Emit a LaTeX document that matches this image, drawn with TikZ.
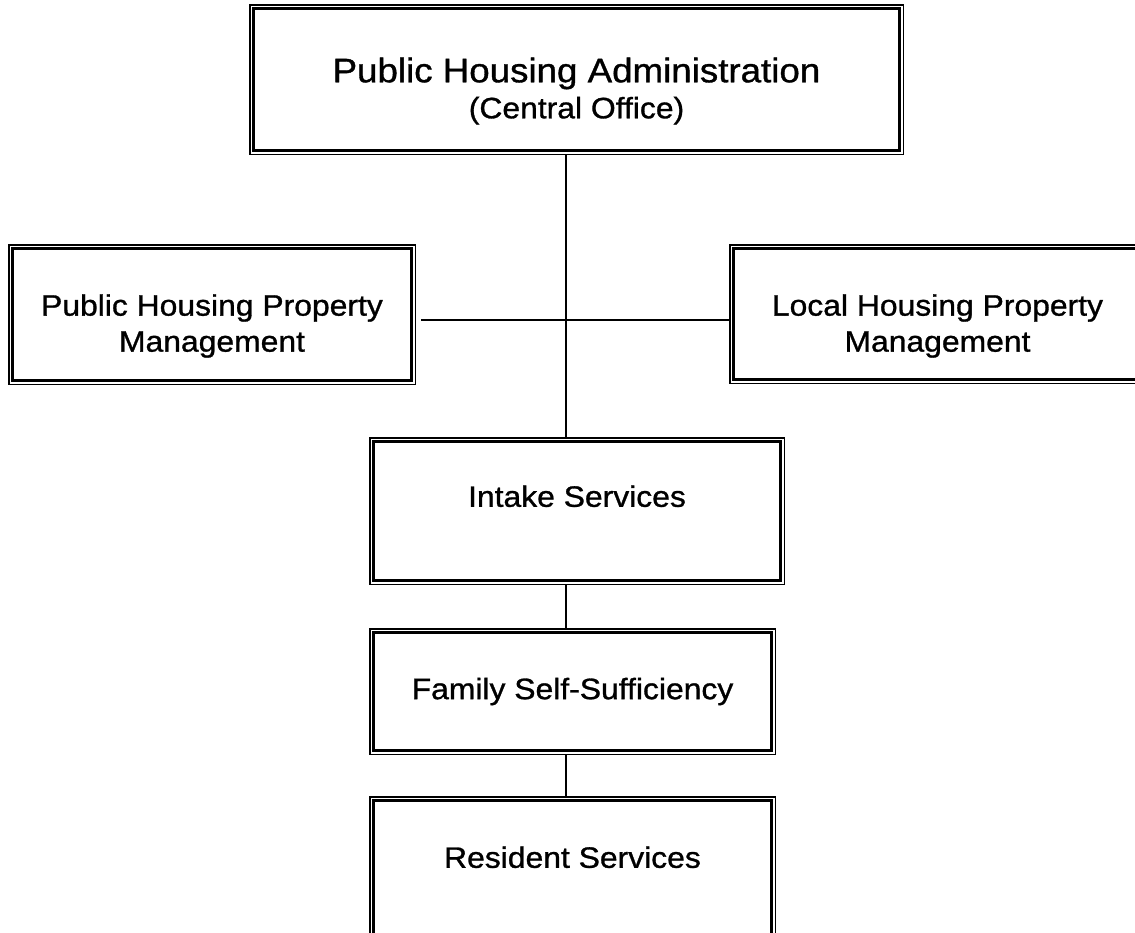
\documentclass[tikz,border=0pt]{standalone}
\usepackage{fontspec}
\setmainfont{Liberation Sans}[FakeStretch=1.08, FakeBold=1]
\newcommand{\bodyfont}{\fontsize{29.5}{36}\selectfont}
\newcommand{\headfont}{\fontsize{34}{38}\selectfont}

\begin{document}
\begin{tikzpicture}[x=1pt, y=-1pt, font=\bodyfont]
        \useasboundingbox (0,0) rectangle (1135,932);
        \begin{scope}
            \tikzstyle{unit}=[draw=black, line width=1.5pt, inner sep=0pt,
                append after command={\pgfextra{\draw[line width=3pt]
                    ([shift={(4.25pt,4.25pt)}]\tikzlastnode.south west) rectangle
                    ([shift={(-4.25pt,-4.25pt)}]\tikzlastnode.north east);}}]
            \tikzstyle{every label}=[align=center, text=black]
            \node[unit, minimum width=653.5pt, minimum height=149.5pt,
                label={[yshift=-11.5pt]center:{\headfont Public Housing Administration}\\(Central Office)}]
                (admin) at (576.5,79.5) {};
            \node[unit, minimum width=406.5pt, minimum height=139.5pt,
                label={[yshift=-11.5pt]center:Public Housing Property\\Management}]
                (phpm) at (212,314.5) {};
            \node[unit, minimum width=415.5pt, minimum height=138.5pt,
                label={[yshift=-12pt]center:Local Housing Property\\Management}]
                (lhpm) at (937.5,314) {};
            \node[unit, minimum width=414.5pt, minimum height=146.5pt,
                label={[yshift=14.75pt]center:Intake Services}]
                (intake) at (577,511) {};
            \node[unit, minimum width=405.5pt, minimum height=125.5pt,
                label={[yshift=0pt]center:Family Self-Sufficiency}]
                (fss) at (572.5,691.5) {};
            \node[unit, minimum width=405.5pt, minimum height=146.5pt,
                label={[yshift=12.75pt]center:Resident Services}]
                (resident) at (572.5,870) {};
        \end{scope}
        \coordinate (spine) at (566,320);
        \begin{scope}
            \tikzstyle{every edge}=[draw, line width=1.5pt]
            \path
            (admin.south -| spine) edge (intake.north -| spine)
            (intake.south -| spine) edge (fss.north -| spine)
            (fss.south -| spine) edge (resident.north -| spine)
            ([xshift=5pt]phpm.east |- spine) edge (lhpm.west |- spine)
            ([xshift=-26pt]spine) edge[line width=2.5pt] (spine)
            ;
        \end{scope}
    \end{tikzpicture}
\end{document}
